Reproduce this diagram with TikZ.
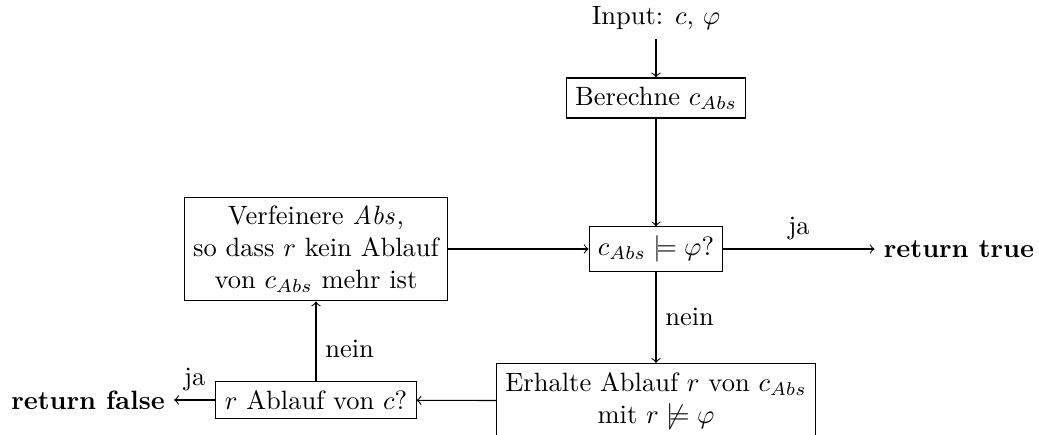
\documentclass[tikz,border=0pt]{standalone}
\usepackage{amsmath,amssymb}
\begin{document}
\begin{tikzpicture}[x=0.3774pt,y=-0.3774pt,
  box/.style={draw,align=center,inner sep=3.33pt},
  plain/.style={align=center},
  flow/.style={->},
  lbl/.style={font=\normalsize}]
\useasboundingbox (0,0) rectangle (1039,435);

\node[plain] (input) at (656,18) {Input: $c$, $\varphi$};
\node[box] (calc) at (656,98) {Berechne $c_{Abs}$};
\node[box] (check) at (656,249) {$c_{Abs} \models \varphi$?};
\node[box] (cex) at (656,401) {Erhalte Ablauf $r$ von $c_{Abs}$\\ mit $r \not\models \varphi$};
\node[box] (refine) at (316,249) {Verfeinere $\mathit{Abs}$,\\ so dass $r$ kein Ablauf\\ von $c_{Abs}$ mehr ist};
\node[box] (real) at (316,400) {$r$ Ablauf von $c$?};
\node[plain] (true) at (959,249) {\textbf{return true}};
\node[plain] (false) at (88,400) {\textbf{return false}};

\draw[flow] (input) -- (calc);
\draw[flow] (calc) -- (check);
\draw[flow] (check) -- node[above,lbl] {ja} (true);
\draw[flow] (check) -- node[right,lbl] {nein} (cex);
\draw[flow] (cex) -- (real);
\draw[flow] (real) -- node[above,lbl] {ja} (false);
\draw[flow] (real) -- node[right,lbl,pos=0.4] {nein} (refine);
\draw[flow] (refine) -- (check);
\end{tikzpicture}
\end{document}
